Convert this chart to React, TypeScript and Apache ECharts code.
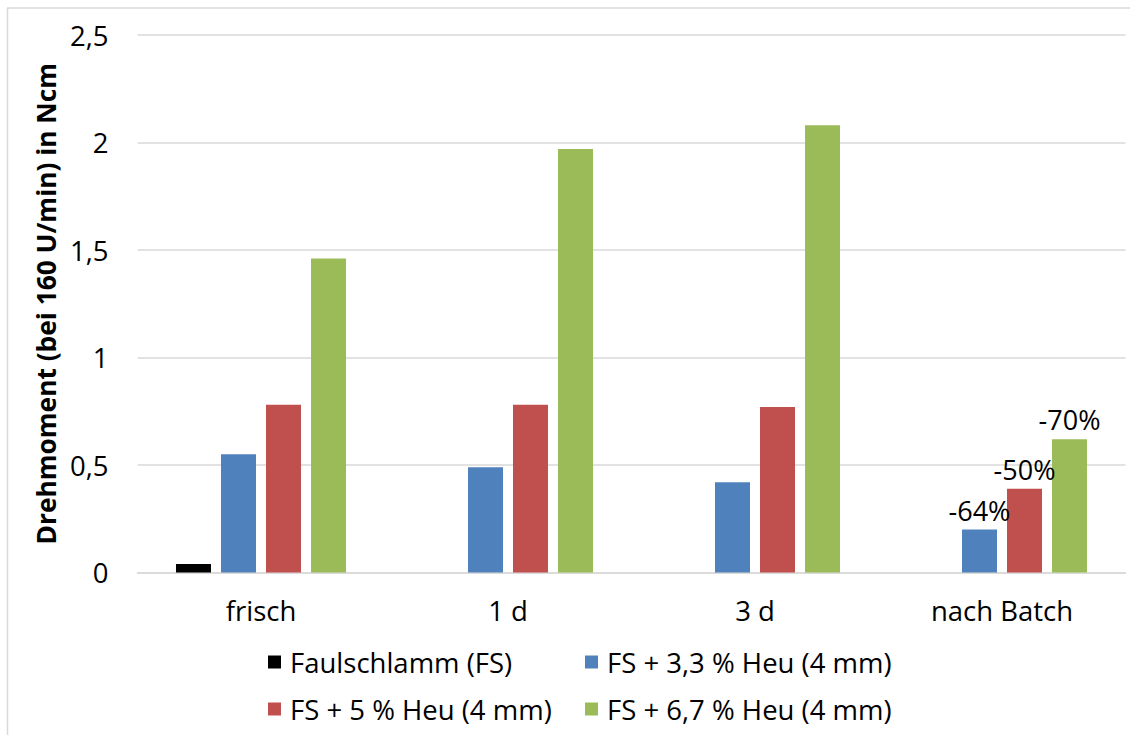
import React, { useEffect, useRef } from "react";
import * as echarts from "echarts";

const categories = ["frisch", "1 d", "3 d", "nach Batch"];
const seriesNames = [
  "Faulschlamm (FS)",
  "FS + 3,3 % Heu (4 mm)",
  "FS + 5 % Heu (4 mm)",
  "FS + 6,7 % Heu (4 mm)",
];
const faulschlamm = [0.04, null, null, null];
const heu33 = [0.55, 0.49, 0.42, 0.2];
const heu5 = [0.78, 0.78, 0.77, 0.39];
const heu67 = [1.46, 1.97, 2.08, 0.62];
// Reduction after the batch, relative to the fresh sample
const changeLabels = [null, "-64%", "-50%", "-70%"];
const colors = ["#000000", "#4f81bd", "#c0504d", "#9bbb59"];
const yTicks = [0, 0.5, 1, 1.5, 2, 2.5];

const FONT = "'Open Sans', Lato, sans-serif";

export default function App() {
  const ref = useRef<HTMLDivElement>(null);

  useEffect(() => {
    document.body.style.margin = "0";
    const chart = echarts.init(ref.current!, null, { renderer: "svg" });
    const values = [faulschlamm, heu33, heu5, heu67];

    const series = values.map((data, i) => ({
      name: seriesNames[i],
      type: "bar",
      data:
        i === 0
          ? data
          : data.map((v, j) =>
              j === 3 && changeLabels[i]
                ? {
                    value: v,
                    label: {
                      show: true,
                      position: "top",
                      distance: 6,
                      formatter: changeLabels[i],
                      fontSize: 27,
                      fontFamily: FONT,
                      color: "#000",
                    },
                  }
                : v
            ),
      barWidth: 35,
      barGap: "28.6%",
      barCategoryGap: "31%",
      itemStyle: { color: colors[i] },
    }));

    const legendPos = [
      { left: 268, top: 648 },
      { left: 585, top: 648 },
      { left: 268, top: 695 },
      { left: 585, top: 695 },
    ];

    chart.setOption({
      animation: false,
      backgroundColor: "#ffffff",
      textStyle: { fontFamily: FONT },
      grid: { left: 137.5, right: 4.5, top: 35, bottom: 162.5, containLabel: false },
      legend: seriesNames.map((n, i) => ({
        data: [n],
        left: legendPos[i].left,
        top: legendPos[i].top,
        padding: 0,
        itemWidth: 13,
        itemHeight: 13,
        itemGap: 10,
        icon: "rect",
        selectedMode: false,
        textStyle: { fontSize: 27.5, fontFamily: FONT, color: "#000", padding: [0, 0, 0, 4] },
      })),
      xAxis: {
        type: "category",
        data: categories,
        axisLine: { show: true, lineStyle: { color: "#d9d9d9", width: 1.5 } },
        axisTick: { show: false },
        axisLabel: { fontSize: 27.5, color: "#000", margin: 24, fontFamily: FONT },
      },
      yAxis: {
        type: "value",
        min: yTicks[0],
        max: yTicks[yTicks.length - 1],
        interval: 0.5,
        name: "Drehmoment (bei 160 U/min) in Ncm",
        nameLocation: "middle",
        nameGap: 77,
        nameTextStyle: { fontSize: 26.3, fontWeight: "bold", color: "#000", fontFamily: FONT },
        axisLine: { show: false },
        axisTick: { show: false },
        splitLine: { lineStyle: { color: "#d9d9d9", width: 1.5 } },
        axisLabel: {
          fontSize: 27.5,
          color: "#000",
          margin: 29,
          fontFamily: FONT,
          formatter: (v: number) => String(v).replace(".", ","),
        },
      },
      graphic: [
        { type: "line", shape: { x1: 7, y1: 8, x2: 1130, y2: 8 }, style: { stroke: "#d9d9d9", lineWidth: 1.5 } },
        { type: "line", shape: { x1: 7.5, y1: 8, x2: 7.5, y2: 735 }, style: { stroke: "#d9d9d9", lineWidth: 1.5 } },
      ],
      series,
    });

    return () => chart.dispose();
  }, []);

  return <div ref={ref} style={{ width: 1130, height: 735 }} />;
}
